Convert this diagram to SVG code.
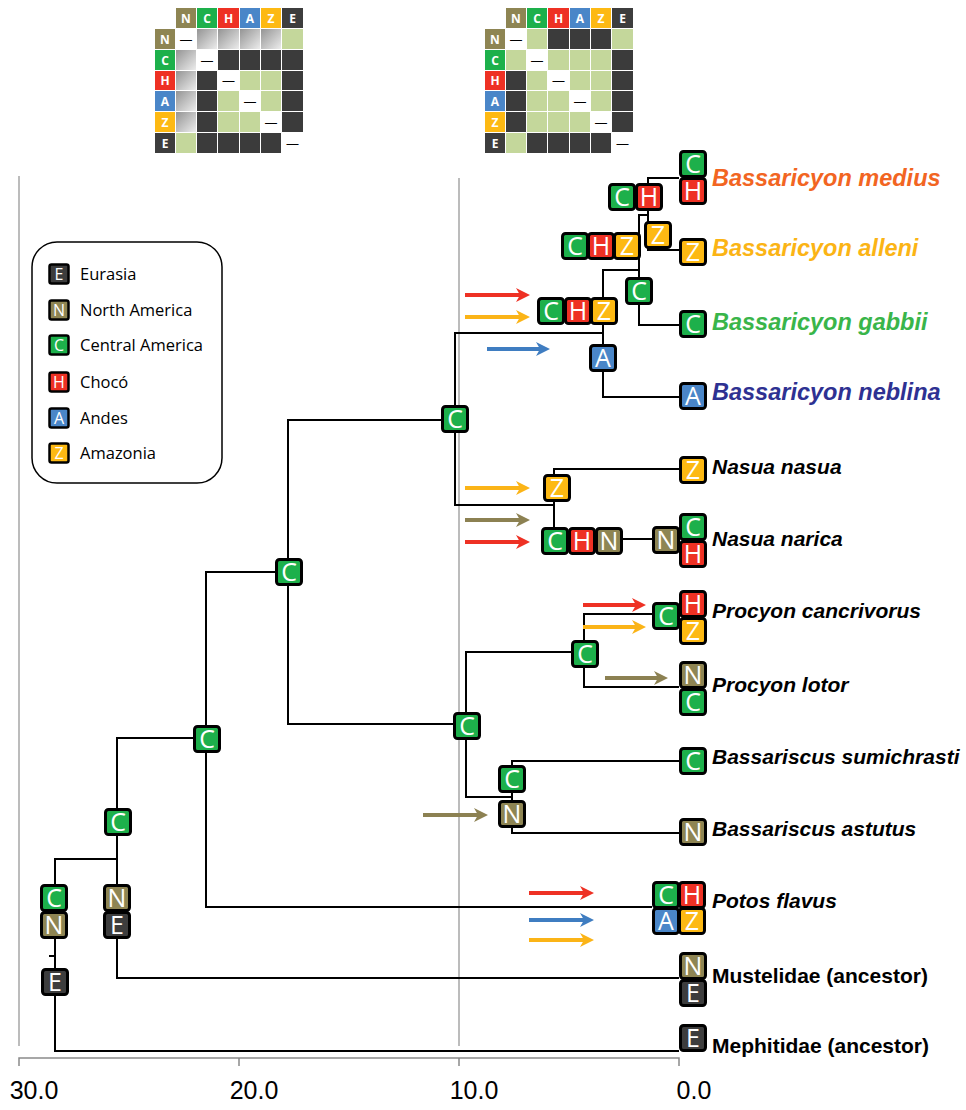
<svg xmlns="http://www.w3.org/2000/svg" width="966" height="1110" viewBox="0 0 966 1110">
<style>
.ln{stroke:#000;stroke-width:2;fill:none}
.gl{stroke:#a6a6a6;stroke-width:1.5;fill:none}
.ax{stroke:#8a8a8a;stroke-width:1.5;fill:none}
.bx{stroke:#000;stroke-width:3}
.sb{stroke:#000;stroke-width:2.5}
.C{fill:#1db04b}.H{fill:#ee3124}.Z{fill:#fdb913}.A{fill:#4a86c8}.N{fill:#8e8553}.E{fill:#3d3d3d}
.bt{font-family:"Open Sans","Noto Sans",sans-serif;font-size:25px;fill:#fff;text-anchor:middle}
.lt{font-family:"Open Sans","Noto Sans",sans-serif;font-size:16px;fill:#fff;text-anchor:middle}
.lg{font-family:"Open Sans","Noto Sans",sans-serif;font-size:16.5px;fill:#000}
.sp{font-family:"Liberation Sans",Arial,sans-serif;font-size:21px;font-weight:bold;font-style:italic;fill:#000}
.sc{font-family:"Liberation Sans",Arial,sans-serif;font-size:23.5px;font-weight:bold;font-style:italic}
.an{font-family:"Liberation Sans",Arial,sans-serif;font-size:21px;font-weight:bold;fill:#000}
.tk{font-family:"Liberation Sans",Arial,sans-serif;font-size:25px;fill:#000;text-anchor:middle}
.k{fill:#3b3b3b}.gr{fill:#c4d79b}.gy{fill:url(#gg)}
.mh{font-family:"Open Sans","Noto Sans",sans-serif;font-size:12px;font-weight:bold;fill:#fff;text-anchor:middle}
.md{font-family:"Liberation Sans",Arial,sans-serif;font-size:12px;fill:#000;text-anchor:middle}
.ar{stroke-width:4;fill:none}
</style>
<defs>
<linearGradient id="gg" x1="0" y1="0" x2="1" y2="1"><stop offset="0" stop-color="#949494"/><stop offset="1" stop-color="#ececec"/></linearGradient>
<marker id="mR" viewBox="0 0 14 14" refX="10" refY="7" markerWidth="14" markerHeight="14" markerUnits="userSpaceOnUse" orient="auto"><path d="M0,0 L14,7 L0,14 L4,7z" fill="#ee3124"/></marker>
<marker id="mY" viewBox="0 0 14 14" refX="10" refY="7" markerWidth="14" markerHeight="14" markerUnits="userSpaceOnUse" orient="auto"><path d="M0,0 L14,7 L0,14 L4,7z" fill="#fbb417"/></marker>
<marker id="mO" viewBox="0 0 14 14" refX="10" refY="7" markerWidth="14" markerHeight="14" markerUnits="userSpaceOnUse" orient="auto"><path d="M0,0 L14,7 L0,14 L4,7z" fill="#8c8152"/></marker>
<marker id="mB" viewBox="0 0 14 14" refX="10" refY="7" markerWidth="14" markerHeight="14" markerUnits="userSpaceOnUse" orient="auto"><path d="M0,0 L14,7 L0,14 L4,7z" fill="#3f7dc1"/></marker>
</defs>
<rect width="966" height="1110" fill="#fff"/>

<g id="matrix-left">
<rect x="176" y="8" width="20" height="20" class="N"/><rect x="197" y="8" width="20" height="20" class="C"/><rect x="218" y="8" width="21" height="20" class="H"/><rect x="240" y="8" width="20" height="20" class="A"/><rect x="261" y="8" width="20" height="20" class="Z"/><rect x="282" y="8" width="21" height="20" class="E"/>
<text x="186" y="22.5" class="mh">N</text><text x="207" y="22.5" class="mh">C</text><text x="228.5" y="22.5" class="mh">H</text><text x="250" y="22.5" class="mh">A</text><text x="271" y="22.5" class="mh">Z</text><text x="292.5" y="22.5" class="mh">E</text>
<rect x="155" y="29" width="20" height="20" class="N"/><rect x="155" y="50" width="20" height="20" class="C"/><rect x="155" y="71" width="20" height="19" class="H"/><rect x="155" y="91" width="20" height="20" class="A"/><rect x="155" y="112" width="20" height="20" class="Z"/><rect x="155" y="133" width="20" height="20" class="E"/>
<text x="165" y="43.5" class="mh">N</text><text x="165" y="64.5" class="mh">C</text><text x="165" y="85" class="mh">H</text><text x="165" y="105.5" class="mh">A</text><text x="165" y="126.5" class="mh">Z</text><text x="165" y="147.5" class="mh">E</text>
<text x="186" y="43.5" class="md">—</text><rect x="197" y="29" width="20" height="20" class="gy"/><rect x="218" y="29" width="21" height="20" class="gy"/><rect x="240" y="29" width="20" height="20" class="gy"/><rect x="261" y="29" width="20" height="20" class="gy"/><rect x="282" y="29" width="21" height="20" class="gr"/>
<rect x="176" y="50" width="20" height="20" class="gy"/><text x="207" y="64.5" class="md">—</text><rect x="218" y="50" width="21" height="20" class="k"/><rect x="240" y="50" width="20" height="20" class="k"/><rect x="261" y="50" width="20" height="20" class="k"/><rect x="282" y="50" width="21" height="20" class="k"/>
<rect x="176" y="71" width="20" height="19" class="gy"/><rect x="197" y="71" width="20" height="19" class="k"/><text x="228.5" y="85" class="md">—</text><rect x="240" y="71" width="20" height="19" class="gr"/><rect x="261" y="71" width="20" height="19" class="gr"/><rect x="282" y="71" width="21" height="19" class="k"/>
<rect x="176" y="91" width="20" height="20" class="gy"/><rect x="197" y="91" width="20" height="20" class="k"/><rect x="218" y="91" width="21" height="20" class="gr"/><text x="250" y="105.5" class="md">—</text><rect x="261" y="91" width="20" height="20" class="gr"/><rect x="282" y="91" width="21" height="20" class="k"/>
<rect x="176" y="112" width="20" height="20" class="gy"/><rect x="197" y="112" width="20" height="20" class="k"/><rect x="218" y="112" width="21" height="20" class="gr"/><rect x="240" y="112" width="20" height="20" class="gr"/><text x="271" y="126.5" class="md">—</text><rect x="282" y="112" width="21" height="20" class="k"/>
<rect x="176" y="133" width="20" height="20" class="gr"/><rect x="197" y="133" width="20" height="20" class="k"/><rect x="218" y="133" width="21" height="20" class="k"/><rect x="240" y="133" width="20" height="20" class="k"/><rect x="261" y="133" width="20" height="20" class="k"/><text x="292.5" y="147.5" class="md">—</text>
</g>

<g id="matrix-right">
<rect x="506" y="8" width="20" height="20" class="N"/><rect x="527" y="8" width="20" height="20" class="C"/><rect x="548" y="8" width="21" height="20" class="H"/><rect x="570" y="8" width="20" height="20" class="A"/><rect x="591" y="8" width="20" height="20" class="Z"/><rect x="612" y="8" width="21" height="20" class="E"/>
<text x="516" y="22.5" class="mh">N</text><text x="537" y="22.5" class="mh">C</text><text x="558.5" y="22.5" class="mh">H</text><text x="580" y="22.5" class="mh">A</text><text x="601" y="22.5" class="mh">Z</text><text x="622.5" y="22.5" class="mh">E</text>
<rect x="485" y="29" width="20" height="20" class="N"/><rect x="485" y="50" width="20" height="20" class="C"/><rect x="485" y="71" width="20" height="19" class="H"/><rect x="485" y="91" width="20" height="20" class="A"/><rect x="485" y="112" width="20" height="20" class="Z"/><rect x="485" y="133" width="20" height="20" class="E"/>
<text x="495" y="43.5" class="mh">N</text><text x="495" y="64.5" class="mh">C</text><text x="495" y="85" class="mh">H</text><text x="495" y="105.5" class="mh">A</text><text x="495" y="126.5" class="mh">Z</text><text x="495" y="147.5" class="mh">E</text>
<text x="516" y="43.5" class="md">—</text><rect x="527" y="29" width="20" height="20" class="gr"/><rect x="548" y="29" width="21" height="20" class="k"/><rect x="570" y="29" width="20" height="20" class="k"/><rect x="591" y="29" width="20" height="20" class="k"/><rect x="612" y="29" width="21" height="20" class="gr"/>
<rect x="506" y="50" width="20" height="20" class="gr"/><text x="537" y="64.5" class="md">—</text><rect x="548" y="50" width="21" height="20" class="gr"/><rect x="570" y="50" width="20" height="20" class="gr"/><rect x="591" y="50" width="20" height="20" class="gr"/><rect x="612" y="50" width="21" height="20" class="k"/>
<rect x="506" y="71" width="20" height="19" class="k"/><rect x="527" y="71" width="20" height="19" class="gr"/><text x="558.5" y="85" class="md">—</text><rect x="570" y="71" width="20" height="19" class="gr"/><rect x="591" y="71" width="20" height="19" class="gr"/><rect x="612" y="71" width="21" height="19" class="k"/>
<rect x="506" y="91" width="20" height="20" class="k"/><rect x="527" y="91" width="20" height="20" class="gr"/><rect x="548" y="91" width="21" height="20" class="gr"/><text x="580" y="105.5" class="md">—</text><rect x="591" y="91" width="20" height="20" class="gr"/><rect x="612" y="91" width="21" height="20" class="k"/>
<rect x="506" y="112" width="20" height="20" class="k"/><rect x="527" y="112" width="20" height="20" class="gr"/><rect x="548" y="112" width="21" height="20" class="gr"/><rect x="570" y="112" width="20" height="20" class="gr"/><text x="601" y="126.5" class="md">—</text><rect x="612" y="112" width="21" height="20" class="k"/>
<rect x="506" y="133" width="20" height="20" class="gr"/><rect x="527" y="133" width="20" height="20" class="k"/><rect x="548" y="133" width="21" height="20" class="k"/><rect x="570" y="133" width="20" height="20" class="k"/><rect x="591" y="133" width="20" height="20" class="k"/><text x="622.5" y="147.5" class="md">—</text>
</g>

<g id="timescale">
<line x1="19" y1="176" x2="19" y2="1046" class="gl"/>
<line x1="459" y1="178" x2="459" y2="1046" class="gl"/>
<path d="M19,1066 V1058 H679 V1066 M239,1058 V1066 M459,1058 V1066" class="ax"/>
<text x="34" y="1099" class="tk">30.0</text>
<text x="254" y="1099" class="tk">20.0</text>
<text x="474" y="1099" class="tk">10.0</text>
<text x="694" y="1099" class="tk">0.0</text>
</g>

<g id="legend">
<rect x="32" y="242" width="190" height="241" rx="25" fill="#fff" stroke="#000" stroke-width="1.5"/>
<rect x="49.5" y="264.5" width="19" height="19" rx="2" class="E sb"/><text x="59" y="280" class="lt">E</text><text x="80" y="280" class="lg">Eurasia</text>
<rect x="49.5" y="300.5" width="19" height="19" rx="2" class="N sb"/><text x="59" y="316" class="lt">N</text><text x="80" y="316" class="lg">North America</text>
<rect x="49.5" y="335.5" width="19" height="19" rx="2" class="C sb"/><text x="59" y="351" class="lt">C</text><text x="80" y="351" class="lg">Central America</text>
<rect x="49.5" y="372.5" width="19" height="19" rx="2" class="H sb"/><text x="59" y="388" class="lt">H</text><text x="80" y="388" class="lg">Chocó</text>
<rect x="49.5" y="408.5" width="19" height="19" rx="2" class="A sb"/><text x="59" y="424" class="lt">A</text><text x="80" y="424" class="lg">Andes</text>
<rect x="49.5" y="443.5" width="19" height="19" rx="2" class="Z sb"/><text x="59" y="459" class="lt">Z</text><text x="80" y="459" class="lg">Amazonia</text>
</g>

<g id="connectors">
<path d="M117,859 H55 V1051 H679" class="ln"/>
<path d="M49,956 H55" class="ln"/>
<path d="M206,738 H117 V978 H679" class="ln"/>
<path d="M288,572 H206 V907 H652" class="ln"/>
<path d="M455,420 H288 V724 H466" class="ln"/>
<path d="M603,333 H455 V505 H554" class="ln"/>
<path d="M639,270 H603 V397 H679" class="ln"/>
<path d="M648,215 H639 V325 H679" class="ln"/>
<path d="M679,178 H648 V250 H679" class="ln"/>
<path d="M679,469 H554 V539 H652" class="ln"/>
<path d="M584,652 H466 V797 H512" class="ln"/>
<path d="M652,614 H584 V687 H679" class="ln"/>
<path d="M679,761 H512 V833 H679" class="ln"/>
</g>

<g id="dispersal-arrows">
<line x1="465" y1="295" x2="526" y2="295" stroke="#ee3124" class="ar" marker-end="url(#mR)"/>
<line x1="465" y1="317" x2="526" y2="317" stroke="#fbb417" class="ar" marker-end="url(#mY)"/>
<line x1="487" y1="349" x2="546" y2="349" stroke="#3f7dc1" class="ar" marker-end="url(#mB)"/>
<line x1="465" y1="488" x2="526" y2="488" stroke="#fbb417" class="ar" marker-end="url(#mY)"/>
<line x1="465" y1="520" x2="526" y2="520" stroke="#8c8152" class="ar" marker-end="url(#mO)"/>
<line x1="465" y1="542" x2="526" y2="542" stroke="#ee3124" class="ar" marker-end="url(#mR)"/>
<line x1="583" y1="605" x2="642" y2="605" stroke="#ee3124" class="ar" marker-end="url(#mR)"/>
<line x1="583" y1="627" x2="642" y2="627" stroke="#fbb417" class="ar" marker-end="url(#mY)"/>
<line x1="605" y1="678" x2="664" y2="678" stroke="#8c8152" class="ar" marker-end="url(#mO)"/>
<line x1="423" y1="815" x2="484" y2="815" stroke="#8c8152" class="ar" marker-end="url(#mO)"/>
<line x1="529" y1="893" x2="590" y2="893" stroke="#ee3124" class="ar" marker-end="url(#mR)"/>
<line x1="529" y1="920" x2="590" y2="920" stroke="#3f7dc1" class="ar" marker-end="url(#mB)"/>
<line x1="529" y1="940" x2="590" y2="940" stroke="#fbb417" class="ar" marker-end="url(#mY)"/>
</g>

<g id="node-root">
<rect x="41.5" y="885.5" width="25" height="25" rx="3" class="C bx"/><text x="54" y="907" class="bt">C</text>
<rect x="41.5" y="912.5" width="25" height="25" rx="3" class="N bx"/><text x="54" y="934" class="bt">N</text>
<rect x="42.5" y="969.5" width="25" height="25" rx="3" class="E bx"/><text x="55" y="991" class="bt">E</text>
</g>
<g id="node-117">
<rect x="105.5" y="809.5" width="25" height="25" rx="3" class="C bx"/><text x="118" y="831" class="bt">C</text>
<rect x="104.5" y="885.5" width="25" height="25" rx="3" class="N bx"/><text x="117" y="907" class="bt">N</text>
<rect x="104.5" y="912.5" width="25" height="25" rx="3" class="E bx"/><text x="117" y="934" class="bt">E</text>
</g>
<g id="node-206"><rect x="194.5" y="726.5" width="25" height="25" rx="3" class="C bx"/><text x="207" y="748" class="bt">C</text></g>
<g id="node-288"><rect x="276.5" y="559.5" width="25" height="25" rx="3" class="C bx"/><text x="289" y="581" class="bt">C</text></g>
<g id="node-455"><rect x="442.5" y="406.5" width="25" height="25" rx="3" class="C bx"/><text x="455" y="428" class="bt">C</text></g>
<g id="node-466"><rect x="454.5" y="713.5" width="25" height="25" rx="3" class="C bx"/><text x="467" y="735" class="bt">C</text></g>
<g id="node-bassariscus">
<rect x="499.5" y="766.5" width="25" height="25" rx="3" class="C bx"/><text x="512" y="788" class="bt">C</text>
<rect x="499.5" y="801.5" width="25" height="25" rx="3" class="N bx"/><text x="512" y="823" class="bt">N</text>
</g>
<g id="node-procyon"><rect x="572.5" y="641.5" width="25" height="25" rx="3" class="C bx"/><text x="585" y="663" class="bt">C</text></g>
<g id="node-nasua">
<rect x="544.5" y="475.5" width="25" height="25" rx="3" class="Z bx"/><text x="557" y="497" class="bt">Z</text>
<rect x="542.5" y="528.5" width="25" height="25" rx="3" class="C bx"/><text x="555" y="550" class="bt">C</text>
<rect x="569.5" y="528.5" width="25" height="25" rx="3" class="H bx"/><text x="582" y="550" class="bt">H</text>
<rect x="596.5" y="528.5" width="25" height="25" rx="3" class="N bx"/><text x="609" y="550" class="bt">N</text>
</g>
<g id="node-bassaricyon">
<rect x="538.5" y="298.5" width="25" height="25" rx="3" class="C bx"/><text x="551" y="320" class="bt">C</text>
<rect x="565.5" y="298.5" width="25" height="25" rx="3" class="H bx"/><text x="578" y="320" class="bt">H</text>
<rect x="591.5" y="298.5" width="25" height="25" rx="3" class="Z bx"/><text x="604" y="320" class="bt">Z</text>
<rect x="590.5" y="345.5" width="25" height="25" rx="3" class="A bx"/><text x="603" y="367" class="bt">A</text>
</g>
<g id="node-639">
<rect x="562.5" y="233.5" width="25" height="25" rx="3" class="C bx"/><text x="575" y="255" class="bt">C</text>
<rect x="588.5" y="233.5" width="25" height="25" rx="3" class="H bx"/><text x="601" y="255" class="bt">H</text>
<rect x="614.5" y="233.5" width="25" height="25" rx="3" class="Z bx"/><text x="627" y="255" class="bt">Z</text>
<rect x="626.5" y="278.5" width="25" height="25" rx="3" class="C bx"/><text x="639" y="300" class="bt">C</text>
</g>
<g id="node-648">
<rect x="609.5" y="184.5" width="25" height="25" rx="3" class="C bx"/><text x="622" y="206" class="bt">C</text>
<rect x="636.5" y="184.5" width="25" height="25" rx="3" class="H bx"/><text x="649" y="206" class="bt">H</text>
<rect x="645.5" y="222.5" width="25" height="25" rx="3" class="Z bx"/><text x="658" y="244" class="bt">Z</text>
</g>

<g id="tip-medius">
<rect x="680.5" y="151.5" width="25" height="25" rx="3" class="C bx"/><text x="693" y="173" class="bt">C</text>
<rect x="680.5" y="178.5" width="25" height="25" rx="3" class="H bx"/><text x="693" y="200" class="bt">H</text>
<text x="712" y="186" class="sc" style="fill:#f26522">Bassaricyon medius</text>
</g>
<g id="tip-alleni">
<rect x="680.5" y="239.5" width="25" height="25" rx="3" class="Z bx"/><text x="693" y="261" class="bt">Z</text>
<text x="712" y="256" class="sc" style="fill:#fbb415">Bassaricyon alleni</text>
</g>
<g id="tip-gabbii">
<rect x="680.5" y="311.5" width="25" height="25" rx="3" class="C bx"/><text x="693" y="333" class="bt">C</text>
<text x="712" y="330" class="sc" style="fill:#39b54a">Bassaricyon gabbii</text>
</g>
<g id="tip-neblina">
<rect x="680.5" y="383.5" width="25" height="25" rx="3" class="A bx"/><text x="693" y="405" class="bt">A</text>
<text x="712" y="400" class="sc" style="fill:#2e3192">Bassaricyon neblina</text>
</g>
<g id="tip-nasua">
<rect x="680.5" y="457.5" width="25" height="25" rx="3" class="Z bx"/><text x="693" y="479" class="bt">Z</text>
<text x="712" y="474" class="sp">Nasua nasua</text>
</g>
<g id="tip-narica">
<rect x="653.5" y="527.5" width="25" height="25" rx="3" class="N bx"/><text x="666" y="549" class="bt">N</text>
<rect x="680.5" y="514.5" width="25" height="25" rx="3" class="C bx"/><text x="693" y="536" class="bt">C</text>
<rect x="680.5" y="541.5" width="25" height="25" rx="3" class="H bx"/><text x="693" y="563" class="bt">H</text>
<text x="712" y="546" class="sp">Nasua narica</text>
</g>
<g id="tip-cancrivorus">
<rect x="653.5" y="603.5" width="25" height="25" rx="3" class="C bx"/><text x="666" y="625" class="bt">C</text>
<rect x="680.5" y="591.5" width="25" height="25" rx="3" class="H bx"/><text x="693" y="613" class="bt">H</text>
<rect x="680.5" y="618.5" width="25" height="25" rx="3" class="Z bx"/><text x="693" y="640" class="bt">Z</text>
<text x="712" y="618" class="sp">Procyon cancrivorus</text>
</g>
<g id="tip-lotor">
<rect x="680.5" y="662.5" width="25" height="25" rx="3" class="N bx"/><text x="693" y="684" class="bt">N</text>
<rect x="680.5" y="689.5" width="25" height="25" rx="3" class="C bx"/><text x="693" y="711" class="bt">C</text>
<text x="712" y="692" class="sp">Procyon lotor</text>
</g>
<g id="tip-sumichrasti">
<rect x="680.5" y="748.5" width="25" height="25" rx="3" class="C bx"/><text x="693" y="770" class="bt">C</text>
<text x="712" y="764" class="sp">Bassariscus sumichrasti</text>
</g>
<g id="tip-astutus">
<rect x="680.5" y="819.5" width="25" height="25" rx="3" class="N bx"/><text x="693" y="841" class="bt">N</text>
<text x="712" y="836" class="sp">Bassariscus astutus</text>
</g>
<g id="tip-potos">
<rect x="653.5" y="882.5" width="25" height="25" rx="3" class="C bx"/><text x="666" y="904" class="bt">C</text>
<rect x="679.5" y="882.5" width="25" height="25" rx="3" class="H bx"/><text x="692" y="904" class="bt">H</text>
<rect x="653.5" y="908.5" width="25" height="25" rx="3" class="A bx"/><text x="666" y="930" class="bt">A</text>
<rect x="679.5" y="908.5" width="25" height="25" rx="3" class="Z bx"/><text x="692" y="930" class="bt">Z</text>
<text x="712" y="908" class="sp">Potos flavus</text>
</g>
<g id="tip-mustelidae">
<rect x="680.5" y="953.5" width="25" height="25" rx="3" class="N bx"/><text x="693" y="975" class="bt">N</text>
<rect x="680.5" y="980.5" width="25" height="25" rx="3" class="E bx"/><text x="693" y="1002" class="bt">E</text>
<text x="712" y="983" class="an">Mustelidae (ancestor)</text>
</g>
<g id="tip-mephitidae">
<rect x="680.5" y="1025.5" width="25" height="25" rx="3" class="E bx"/><text x="693" y="1047" class="bt">E</text>
<text x="712" y="1053" class="an">Mephitidae (ancestor)</text>
</g>
</svg>
